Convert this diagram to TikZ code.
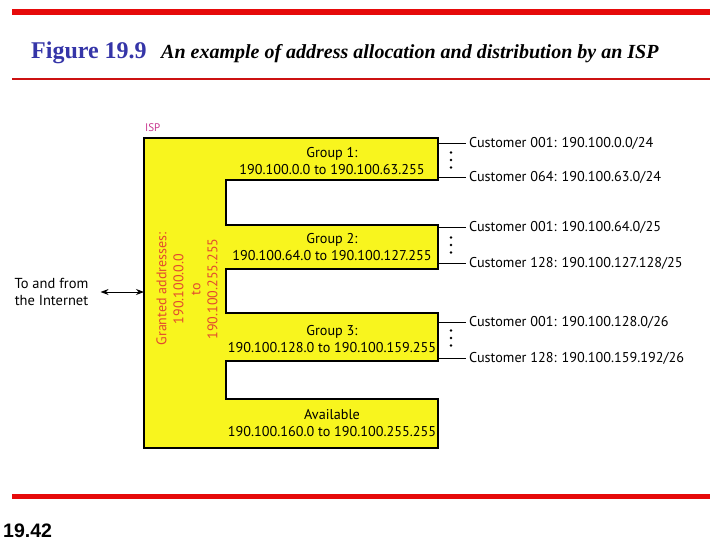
\documentclass[tikz,border=0pt]{standalone}
\usepackage{fontspec}
\setmainfont{PT Sans}
\newfontfamily\titlefont{Liberation Serif}
\newfontfamily\pagefont{Liberation Sans}
\usetikzlibrary{arrows.meta}
\definecolor{RuleRed}{HTML}{E60A0A}
\definecolor{ThinRed}{HTML}{CC1111}
\definecolor{FigBlue}{HTML}{3535A8}
\definecolor{IspYellow}{HTML}{F8F51E}
\definecolor{IspMagenta}{HTML}{C8368F}
\definecolor{GrantRed}{HTML}{E2492F}
\tikzset{
  isp block/.style={draw=black, fill=IspYellow, line width=1.1pt, line join=miter},
  grp label/.style={align=center, inner sep=0pt, font=\fontsize{14.2}{17}\selectfont},
  cust label/.style={anchor=west, inner sep=0pt, font=\fontsize{14.2}{16}\selectfont},
  cust line/.style={draw=black, line width=1pt, shorten >=3pt},
  dot mark/.style={circle, fill=black, inner sep=0pt, minimum size=2.8pt},
  red rule/.style={draw=RuleRed, line width=5.5pt},
  net arrow/.style={{Stealth[length=8pt,width=6pt]}-{Stealth[length=8pt,width=6pt]}, line width=1pt, shorten <=12pt}
}

\begin{document}
\begin{tikzpicture}[x=1pt, y=-1pt]
        \useasboundingbox (0,0) rectangle (728,546);

        % rules and captions
        \draw[red rule] (12,12) -- (710,12);
        \draw[draw=ThinRed, line width=2pt] (12,79) -- (710,79);
        \draw[red rule] (12,496.5) -- (710,496.5);
        \node[anchor=base west, inner sep=0pt, text=FigBlue, font=\titlefont\bfseries\fontsize{24}{26}\selectfont] (fignum) at (31,58) {Figure 19.9};
        \node[anchor=base west, inner sep=0pt, font=\titlefont\bfseries\itshape\fontsize{20}{22}\selectfont] (figcap) at (161,58) {An example of address allocation and distribution by an ISP};
        \node[anchor=base west, inner sep=0pt, font=\pagefont\bfseries\fontsize{19.5}{22}\selectfont] (pagenum) at (3,537) {19.42};

        % the ISP block
        \draw[isp block] (144,138) -- (438,138) -- (438,180) -- (226,180) -- (226,225) -- (438,225) -- (438,269)
          -- (226,269) -- (226,313) -- (438,313) -- (438,361) -- (226,361) -- (226,399) -- (438,399) -- (438,448)
          -- (144,448) -- cycle;
        \node[anchor=base west, inner sep=0pt, text=IspMagenta, font=\fontsize{11}{13}\selectfont] (isp) at (145,131) {ISP};
        \node[rotate=90, align=center, inner sep=0pt, text=GrantRed, font=\fontsize{14}{17}\selectfont] (granted) at (187,289)
          {Granted addresses:\\190.100.0.0\\to\\190.100.255.255};

        \node[grp label] (g1) at (332,161) {Group 1:\\190.100.0.0 to 190.100.63.255};
        \node[grp label] (g2) at (332,247.5) {Group 2:\\190.100.64.0 to 190.100.127.255};
        \node[grp label] (g3) at (332,339) {Group 3:\\190.100.128.0 to 190.100.159.255};
        \node[grp label] (avail) at (332,423.5) {Available\\190.100.160.0 to 190.100.255.255};

        % Internet side
        \node[align=center, inner sep=0pt, font=\fontsize{14.5}{17}\selectfont] (net) at (51.5,291.5) {To and from\\the Internet};
        \coordinate (ispin) at (144,292);
        \draw[net arrow] (net.east |- ispin) -- (ispin);

        % customers
        \coordinate (g1a) at (438,143);
        \coordinate (g1b) at (438,177);
        \coordinate (g2a) at (438,227);
        \coordinate (g2b) at (438,263);
        \coordinate (g3a) at (438,322);
        \coordinate (g3b) at (438,358);
        \node[cust label] (c1a) at (469,143) {Customer 001: 190.100.0.0/24};
        \node[cust label] (c1b) at (469,177) {Customer 064: 190.100.63.0/24};
        \node[cust label] (c2a) at (469,227) {Customer 001: 190.100.64.0/25};
        \node[cust label] (c2b) at (469,263) {Customer 128: 190.100.127.128/25};
        \node[cust label] (c3a) at (469,322) {Customer 001: 190.100.128.0/26};
        \node[cust label] (c3b) at (469,358) {Customer 128: 190.100.159.192/26};
        \draw[cust line] (g1a) -- (c1a.west);
        \draw[cust line] (g1b) -- (c1b.west);
        \draw[cust line] (g2a) -- (c2a.west);
        \draw[cust line] (g2b) -- (c2b.west);
        \draw[cust line] (g3a) -- (c3a.west);
        \draw[cust line] (g3b) -- (c3b.west);
        \foreach \y in {160,245,338} {
          \node[dot mark] at (451,\y-7.5) {};
          \node[dot mark] at (451,\y) {};
          \node[dot mark] at (451,\y+7.5) {};
        }
      \end{tikzpicture}
\end{document}
